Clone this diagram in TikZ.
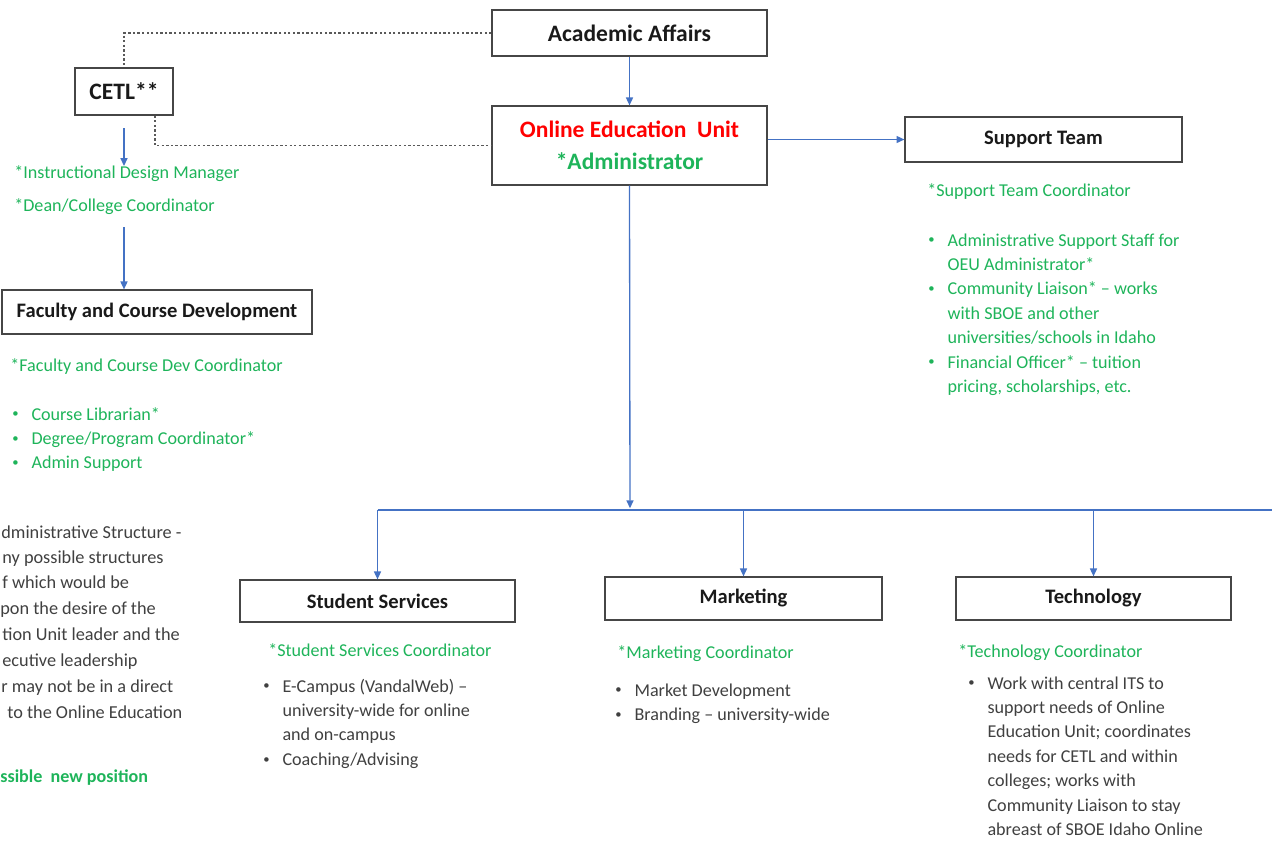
\documentclass[tikz,border=0pt]{standalone}
\usepackage{fontspec}
\setmainfont{Carlito}
\usetikzlibrary{arrows.meta}
\definecolor{linkBlue}{RGB}{68,114,196}
\definecolor{roleGreen}{RGB}{30,180,90}
\definecolor{textGray}{RGB}{64,64,64}
\definecolor{boxGray}{RGB}{70,70,70}
\newcommand{\boxFont}{\fontsize{11.7}{14}\selectfont\bfseries}
\newcommand{\headFont}{\fontsize{13.4}{18}\selectfont\bfseries}
\newcommand{\listFont}{\fontsize{10.3}{13.9}\selectfont}
\newcommand{\bul}{\makebox[11.5pt][l]{\hspace{0.6pt}\raisebox{0.12em}{\scalebox{0.7}{\textbullet}}}}
\newcommand{\itemList}[1]{\begin{tabular}[t]{@{}l@{}l@{}}#1\end{tabular}}

\begin{document}
\begin{tikzpicture}[x=0.02cm, y=-0.02cm, >={Triangle[length=4.5pt,width=4pt]}]
  \tikzset{
    unit/.style={draw=boxGray, line width=0.7pt, font=\boxFont, text=black!90, inner sep=2pt},
    head/.style={unit, font=\headFont},
    link/.style={draw=linkBlue, line width=0.75pt},
    arr/.style={link, ->},
    dashline/.style={draw=black!65, line width=0.7pt, dash pattern=on 1.3pt off 1.3pt},
    role/.style={anchor=base west, inner sep=0pt, font=\listFont, text=roleGreen},
    duty/.style={role, text=textGray},
    note/.style={duty, font=\fontsize{10.4}{14.6}\selectfont}
  }
  \useasboundingbox (0,0) rectangle (1274,846);
  \clip (0,0) rectangle (1274,846);

  \node[head, minimum width=5.5cm, minimum height=0.92cm] (aa) at (629.5,33) {Academic Affairs};
  \node[head, minimum width=1.96cm, minimum height=0.94cm] (cetl) at (124,91.5) {CETL**};
  \node[head, minimum width=5.5cm, minimum height=1.58cm, align=center] (oeu) at (629.5,145.5)
    {\textcolor{red}{Online Education\ \ Unit}\\\textcolor{roleGreen}{*Administrator}};
  \node[unit, minimum width=5.54cm, minimum height=0.9cm] (st) at (1043.5,139.5) {Support Team};
  \node[unit, minimum width=6.2cm, minimum height=0.88cm] (fcd) at (157,312) {Faculty and Course Development};
  \node[unit, minimum width=5.5cm, minimum height=0.84cm] (ss) at (377.5,601) {Student Services};
  \node[unit, minimum width=5.54cm, minimum height=0.86cm] (mk) at (743.5,598.5) {Marketing};
  \node[unit, minimum width=5.5cm, minimum height=0.86cm] (tc) at (1093.5,598.5) {Technology};

  \node[role] (idm) at (14,178) {*Instructional Design Manager};
  \node[role] (dean) at (14,211) {*Dean/College Coordinator};
  \node[role] (fcdc) at (10,371) {*Faculty and Course Dev Coordinator};
  \node[role] (fcd-list) at (11,420) {\itemList{\bul & Course Librarian*\\
    \bul & Degree/Program Coordinator*\\
    \bul & Admin Support}};

  \node[role] (stc) at (927,196) {*Support Team Coordinator};
  \node[role] (st-list) at (927,246) {\itemList{\bul & Administrative Support Staff for\\
    & OEU Administrator*\\
    \bul & Community Liaison* -- works\\
    & with SBOE and other\\
    & universities/schools in Idaho\\
    \bul & Financial Officer* -- tuition\\
    & pricing, scholarships, etc.}};

  \node[role] (ssc) at (268,656) {*Student Services Coordinator};
  \node[duty] (ss-list) at (262,692) {\itemList{\bul & E-Campus (VandalWeb) --\\
    & university-wide for online\\
    & and on-campus\\
    \bul & Coaching/Advising}};

  \node[role] (mkc) at (617,658) {*Marketing Coordinator};
  \node[duty] (mk-list) at (614,696) {\itemList{\bul & Market Development\\
    \bul & Branding -- university-wide}};

  \node[role] (tcc) at (958,657) {*Technology Coordinator};
  \node[duty] (tc-list) at (967,689) {\itemList{\bul & Work with central ITS to\\
    & support needs of Online\\
    & Education Unit; coordinates\\
    & needs for CETL and within\\
    & colleges; works with\\
    & Community Liaison to stay\\
    & abreast of SBOE Idaho Online}};

  \node[note] (n1) at (1,538) {dministrative Structure -};
  \node[note] (n2) at (2,563) {ny possible structures};
  \node[note] (n3) at (2,588) {f which would be};
  \node[note] (n4) at (0,614) {pon the desire of the};
  \node[note] (n5) at (2,640) {tion Unit leader and the};
  \node[note] (n6) at (2,666) {ecutive leadership};
  \node[note] (n7) at (1,692) {r may not be in a direct};
  \node[note] (n8) at (7,718) {to the Online Education};
  \node[role, font=\listFont\bfseries] (n9) at (0,782) {ssible\ \ new position};

  \draw[dashline] (aa.west) -| (cetl.north);
  \draw[dashline] ([xshift=0.62cm]cetl.south) |- (oeu.west);
  \draw[arr] (aa) -- (oeu);
  \draw[arr] (oeu.east |- st.west) -- (st.west);
  \coordinate (cetl-out) at (124,128);
  \coordinate (idm-in) at (124,166);
  \draw[arr] (cetl-out) -- (idm-in);
  \coordinate (dean-out) at (124,227);
  \draw[arr] (dean-out) -- (dean-out |- fcd.north);
  \coordinate (bus) at (630,510);
  \coordinate (bus-end) at (1272,510);
  \draw[arr, shorten >=1pt] (oeu.south) -- (bus);
  \draw[link] (ss.north |- bus) -- (bus-end);
  \foreach \n in {ss, mk, tc}
    \draw[arr] (\n.north |- bus) -- (\n.north);
\end{tikzpicture}
\end{document}
